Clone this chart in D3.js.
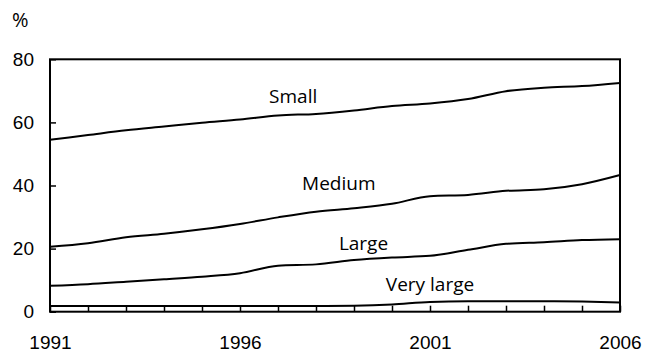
<!DOCTYPE html>
<html>
<head>
<meta charset="utf-8">
<script src="https://cdn.jsdelivr.net/npm/d3@7"></script>
<style>
  body { margin: 0; background: #fff; }
  svg { display: block; font-family: "Open Sans", sans-serif; }
</style>
</head>
<body>
<div id="chart"></div>
<script>
const years = d3.range(1991, 2007);
const small = [54.5, 56.0, 57.5, 58.7, 59.9, 60.9, 62.2, 62.7, 63.8, 65.2, 66.0, 67.4, 69.9, 71.0, 71.5, 72.5];
const medium = [20.6, 21.7, 23.6, 24.7, 26.1, 27.8, 29.9, 31.7, 32.8, 34.2, 36.6, 37.0, 38.3, 38.8, 40.4, 43.3];
const large = [8.2, 8.7, 9.5, 10.3, 11.1, 12.2, 14.6, 15.0, 16.4, 17.2, 17.7, 19.6, 21.5, 22.0, 22.7, 23.0];
const veryLarge = [1.8, 1.8, 1.8, 1.8, 1.8, 1.8, 1.8, 1.8, 1.9, 2.3, 3.1, 3.3, 3.3, 3.3, 3.2, 2.9];
const seriesNames = ["Small", "Medium", "Large", "Very large"];
// where each series name sits (year, value)
const labelYears = [1997.4, 1998.6, 1999.25, 2001.0];
const labelValues = [66.1, 38.6, 19.5, 6.6];
const yTicks = [0, 20, 40, 60, 80];
const xLabels = [1991, 1996, 2001, 2006];

function init() {
    const w = 646, h = 352;
    const margin = { top: 59.3, right: 26, bottom: 40.3, left: 50 };

    const x = d3.scaleLinear()
                .domain([1991, 2006])
                .range([margin.left, w - margin.right]);
    const y = d3.scaleLinear()
                .domain([0, 80])
                .range([h - margin.bottom, margin.top]);

    const svg = d3.select("#chart")
                .append("svg")
                .attr("width", w)
                .attr("height", h);

    // y axis ticks (inward) and labels
    svg.append("g")
        .attr("transform", `translate(${margin.left},0)`)
        .call(d3.axisLeft(y).tickValues(yTicks).tickSize(-6).tickPadding(16))
        .call(g => g.select(".domain").remove())
        .call(g => g.selectAll("line").attr("stroke", "#000").attr("stroke-width", 1.5))
        .call(g => g.selectAll("text").attr("fill", "#000").style("font-size", "19px"));

    // x axis ticks every year, labels every 5
    svg.append("g")
        .attr("transform", `translate(0,${h - margin.bottom})`)
        .call(d3.axisBottom(x).tickValues(years).tickSize(-6).tickPadding(24)
                .tickFormat(d => xLabels.includes(d) ? d : ""))
        .call(g => g.select(".domain").remove())
        .call(g => g.selectAll("line").attr("stroke", "#000").attr("stroke-width", 1.5))
        .call(g => g.selectAll("text").attr("fill", "#000").style("font-size", "19px"));

    svg.append("text")
        .attr("x", 12)
        .attr("y", 27)
        .style("font-size", "20px")
        .text("%");

    // frame
    svg.append("rect")
        .attr("x", margin.left)
        .attr("y", margin.top)
        .attr("width", w - margin.left - margin.right)
        .attr("height", h - margin.top - margin.bottom)
        .attr("fill", "none")
        .attr("stroke", "#000")
        .attr("stroke-width", 2);

    const line = d3.line()
                .x((d, i) => x(years[i]))
                .y(d => y(d))
                .curve(d3.curveMonotoneX);

    svg.append("g")
        .selectAll("path")
        .data([small, medium, large, veryLarge])
        .join("path")
        .attr("d", line)
        .attr("fill", "none")
        .attr("stroke", "#000")
        .attr("stroke-width", 2);

    svg.append("g")
        .selectAll("text")
        .data(seriesNames)
        .join("text")
        .attr("x", (d, i) => x(labelYears[i]))
        .attr("y", (d, i) => y(labelValues[i]))
        .attr("text-anchor", "middle")
        .style("font-size", "19px")
        .text(d => d);
}

window.onload = init;
</script>
</body>
</html>
